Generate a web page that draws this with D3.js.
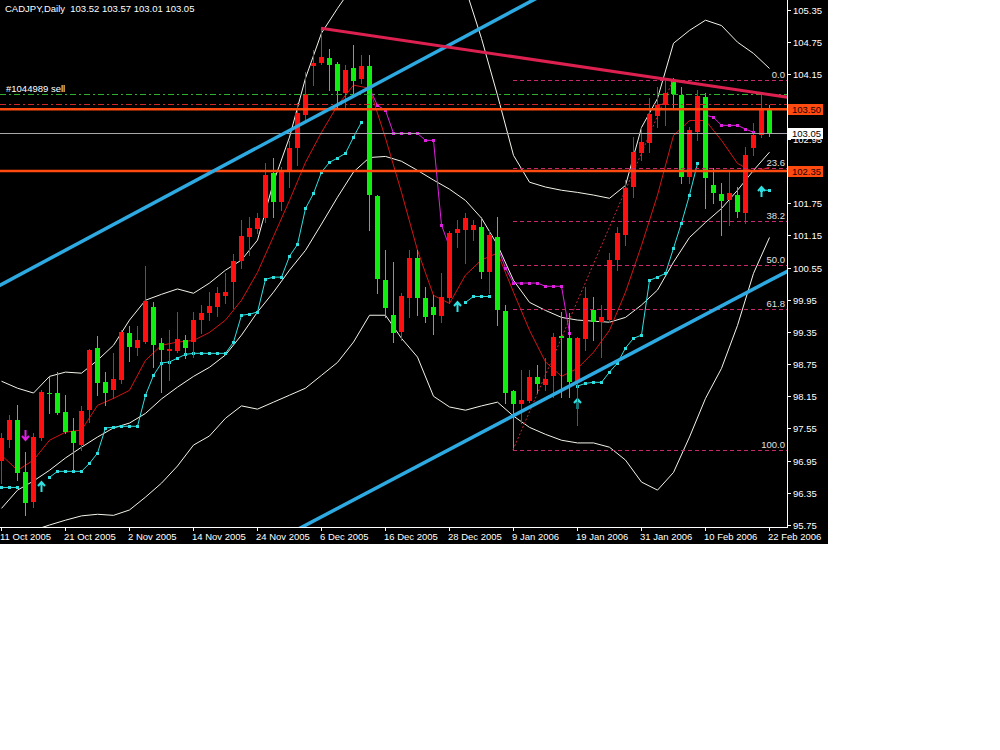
<!DOCTYPE html>
<html><head><meta charset="utf-8">
<script src="https://cdn.jsdelivr.net/npm/d3@7"></script>
<style>html,body{margin:0;padding:0;background:#fff;}svg{display:block}</style>
</head><body>
<svg id="c" width="1000" height="750"></svg>
<script>
// ---------------- DATA ----------------
const symbolTitle = "CADJPY,Daily";
const lastQuote = [103.52, 103.57, 103.01, 103.05];

const opens = [96.94,97.33,97.71,96.74,96.18,97.37,98.21,98.21,97.86,97.50,
97.24,97.89,99.05,98.41,98.27,98.45,99.33,99.05,99.16,99.81,
99.14,98.99,98.99,99.20,99.16,99.57,99.70,99.81,100.02,100.28,
100.67,101.12,101.27,101.47,102.31,101.77,102.36,102.77,103.39,104.30,
104.36,104.45,104.34,103.80,104.27,104.06,104.30,101.88,100.32,99.66,
99.35,99.98,100.73,99.98,99.81,99.64,99.98,101.19,101.25,101.25,
101.30,100.46,101.12,99.74,98.25,98.00,98.06,98.51,98.36,98.53,
99.27,99.23,98.41,99.22,99.76,99.53,99.57,100.69,101.15,102.05,
102.68,102.87,103.37,103.58,104.04,103.76,102.23,103.07,103.72,102.09,
101.92,101.81,101.90,101.56,102.77,103.02,103.52];
const highs = [97.46,97.80,97.99,97.11,97.46,98.27,98.51,98.60,98.17,97.74,
97.97,99.03,99.27,98.60,98.95,99.38,99.46,99.46,100.58,99.90,
99.23,99.38,99.72,99.29,99.72,99.85,100.09,100.18,100.45,100.80,
101.43,101.49,101.56,102.50,102.59,102.42,102.91,103.61,104.19,104.60,
105.01,104.62,104.38,104.32,104.69,104.51,104.51,101.90,100.87,100.65,
100.07,100.87,100.87,100.18,100.04,100.45,101.23,101.43,101.56,101.43,
101.49,101.25,101.49,99.85,98.27,98.64,98.64,98.73,98.86,99.33,
99.72,99.70,99.25,100.18,100.00,99.85,100.82,101.30,102.18,102.98,
103.15,103.71,103.91,104.08,104.08,103.91,103.17,103.85,103.80,102.40,
102.12,102.33,102.05,102.79,103.24,103.80,103.57];
const lows = [96.53,97.20,96.59,95.94,96.09,97.33,97.84,97.82,97.46,96.78,
97.15,97.67,98.17,97.99,98.12,98.40,98.81,98.92,99.14,98.69,
98.23,98.45,98.97,98.86,98.88,99.33,99.57,99.64,99.89,99.79,
100.54,100.78,101.19,101.40,101.49,101.62,102.05,102.46,103.30,103.95,
104.34,103.85,103.54,103.54,103.80,103.99,101.25,100.07,99.63,99.16,
99.20,99.63,99.66,99.53,99.31,99.53,99.89,100.93,100.63,101.06,
100.35,100.07,99.48,98.02,97.15,97.65,98.04,98.21,98.27,98.14,
98.14,98.14,97.61,99.01,99.20,98.88,99.53,100.50,100.97,101.86,
102.55,102.70,103.17,103.20,103.52,102.12,102.12,102.92,101.66,101.75,
101.15,101.34,101.49,101.38,102.64,102.98,103.01];
const closes = [97.37,97.71,96.72,96.16,97.39,98.23,98.19,97.84,97.48,97.28,
97.87,99.01,98.40,98.21,98.47,99.35,99.07,99.20,99.92,99.10,
99.01,99.03,99.22,99.05,99.57,99.70,99.83,100.07,100.09,100.67,
101.13,101.28,101.47,102.27,101.77,102.36,102.77,103.43,103.78,104.36,
104.47,104.32,103.84,104.23,104.02,104.30,101.90,100.33,99.79,99.33,
100.02,100.73,99.98,99.63,99.66,100.00,101.19,101.27,101.47,101.34,
100.46,101.15,99.76,98.21,98.00,98.08,98.51,98.38,98.47,99.25,
99.23,98.41,99.23,99.98,99.53,99.63,100.69,101.19,102.03,102.70,
102.89,103.41,103.58,103.80,103.78,102.23,103.11,103.74,102.22,101.94,
101.79,101.94,101.58,102.64,103.02,103.52,103.05];

// indicator readings, one value every second bar (bars 0,2,4,...,96)
const sampleBars = d3.range(0, 97, 2);
const bbUpper = [98.43,98.30,98.21,98.52,98.60,98.58,98.82,99.10,99.57,99.94,
100.05,100.15,100.07,100.26,100.50,100.69,101.06,102.14,102.98,104.08,
104.92,105.38,105.81,106.18,106.56,106.65,106.56,106.37,106.09,105.75,
104.82,103.76,102.64,102.14,102.05,101.99,101.95,101.90,101.84,102.08,
103.16,103.70,104.73,104.97,105.16,105.06,104.75,104.54,104.26];
const bbMiddle = [96.06,96.40,96.57,96.77,97.00,97.20,97.39,97.56,97.65,97.83,
98.10,98.32,98.52,98.69,98.92,99.29,99.72,100.09,100.50,100.87,
101.36,101.86,102.33,102.60,102.62,102.53,102.36,102.18,102.01,101.80,
101.47,100.97,100.31,99.90,99.75,99.62,99.57,99.55,99.53,99.62,
99.85,100.13,100.65,101.11,101.39,101.65,101.99,102.36,102.70];
const bbLower = [95.47,95.56,95.65,95.75,95.84,95.92,95.95,95.93,96.03,96.27,
96.53,96.85,97.24,97.41,97.74,97.97,97.91,98.04,98.17,98.30,
98.54,98.78,99.16,99.66,99.66,99.23,98.88,98.15,97.95,97.89,
97.97,98.04,97.78,97.57,97.44,97.33,97.28,97.28,97.20,96.96,
96.55,96.40,96.73,97.39,98.11,98.67,99.47,100.44,101.11];
const maLine = [97.05,96.77,96.96,97.33,97.48,97.52,97.98,98.11,98.26,98.82,
99.10,99.16,99.19,99.34,99.57,99.94,100.46,101.13,101.80,102.51,
103.07,103.57,103.95,103.89,102.96,101.95,100.87,100.03,99.88,100.41,
100.69,100.82,100.09,99.38,98.79,98.52,98.67,98.97,99.38,100.09,
100.96,101.90,103.01,103.29,103.29,102.92,102.49,102.33,102.42];

// trailing stop: [firstBar, values...]
const stopUp = [
  [0, [96.45,96.45,96.45]],
  [6, [96.64,96.75,96.75,96.75,96.75,96.90,97.09,97.56,97.57,97.59,97.59,97.59,98.17,98.54,98.77,98.79,98.86,98.93,98.95,98.95,98.95,98.95,98.95,99.16,99.66,99.68,99.72,100.33,100.37,100.37,100.76,100.98,101.65,101.93,102.33,102.51,102.59,102.68,102.98,103.26]],
  [58, [99.90,100.01,100.01,100.01]],
  [72, [98.34,98.39,98.41,98.41,98.60,98.77,99.05,99.23,99.29,100.31,100.37,100.44,100.91,101.38,101.90,102.49]],
  [95, [101.99,101.99]]
];
const stopDown = [
  [46, [103.89,103.57,103.48,103.05,103.05,103.05,103.05,102.92,102.92,101.34,100.93]],
  [62, [100.93,100.54,100.26,100.26,100.26,100.26,100.20,100.20,100.20,99.33]],
  [88, [103.39,103.35,103.20,103.20,103.20,103.13,103.07]]
];
const upArrows = [[5, 96.55], [57, 99.90], [72, 98.10], [95, 102.05]];
const downArrows = [[3, 97.33]];

// chart objects
const channelUpper = [[0, 100.23], [40, 103.42]];
const channelLower = [[60, 97.47], [96, 100.30]];
const resistanceLine = [[40, 105.01], [84, 104.04]];
const levelLines = [103.50, 102.35];
const bidPrice = 103.05;
const orderLabel = "#1044989 sell";
const orderOpen = 103.78;
const orderStop = 103.59;
const fibLow = [64, 97.15];
const fibHigh = [84, 104.04];
const fibLevels = [0, 23.6, 38.2, 50.0, 61.8, 100.0];

const priceTicks = [105.35,104.75,104.15,103.55,102.95,102.35,101.75,101.15,100.55,99.95,99.35,98.75,98.15,97.55,96.95,96.35,95.75];
const dateTickBars = [0,8,16,24,32,40,48,56,64,72,80,88,96];
const dateTickLabels = ["11 Oct 2005","21 Oct 2005","2 Nov 2005","14 Nov 2005","24 Nov 2005","6 Dec 2005","16 Dec 2005","28 Dec 2005","9 Jan 2006","19 Jan 2006","31 Jan 2006","10 Feb 2006","22 Feb 2006"];

// ---------------- DRAW ----------------
const W = 828, H = 544, PW = 787, PH = 527;
const FONT = "'Liberation Sans', Arial, sans-serif";
const COL = {bull:'#ff1010', bear:'#10ee10', band:'#f4f4ea', ma:'#d41414', up:'#30e0e0', down:'#e020e0',
  chan:'#2eaae2', res:'#dc2050', orange:'#ff4a10', fib:'#c8286e', text:'#ffffff'};

const svg = d3.select('#c');
svg.append('rect').attr('width', W).attr('height', H).attr('fill', '#000');
svg.append('defs').append('clipPath').attr('id','plot').append('rect').attr('width', PW).attr('height', PH);

const x = d3.scaleLinear().domain([0, 96]).range([1, 769]);
const y = d3.scaleLinear().domain([95.75, 105.35]).range([525, 10]);
const X = v => Math.round(x(v));
const Y = v => Math.round(y(v));

const plot = svg.append('g').attr('clip-path', 'url(#plot)');

// lines of indicators
const lineGen = d3.line().x(d => x(d[0]) + 0.5).y(d => y(d[1]));
function seriesPts(vals){ return vals.map((v,i) => [sampleBars[i], v]); }
[bbUpper, bbMiddle, bbLower].forEach(s => {
  plot.append('path').attr('d', lineGen(seriesPts(s))).attr('fill','none').attr('stroke', COL.band).attr('stroke-width', 1);
});
plot.append('path').attr('d', lineGen(seriesPts(maLine))).attr('fill','none').attr('stroke', COL.ma).attr('stroke-width', 1);

// trailing stop
function drawStops(segs, color){
  segs.forEach(([start, vals]) => {
    const pts = vals.map((v,i) => [start + i, v]);
    plot.append('path').attr('d', lineGen(pts)).attr('fill','none').attr('stroke', color).attr('stroke-width', 1);
    plot.selectAll(null).data(pts).enter().append('rect')
      .attr('x', d => X(d[0]) - 1).attr('y', d => Y(d[1]) - 1)
      .attr('width', 3).attr('height', 3).attr('fill', color);
  });
}
drawStops(stopUp, COL.up);
drawStops(stopDown, COL.down);
upArrows.forEach(([b, p]) => {
  const cx = X(b) + 0.5, ty = Y(p);
  plot.append('path').attr('d', `M${cx},${ty} L${cx},${ty+10} M${cx-3.5},${ty+4} L${cx},${ty} L${cx+3.5},${ty+4}`)
    .attr('fill','none').attr('stroke', COL.up).attr('stroke-width', 2);
});
downArrows.forEach(([b, p]) => {
  const cx = X(b) + 0.5, ty = Y(p);
  plot.append('path').attr('d', `M${cx},${ty} L${cx},${ty-10} M${cx-3.5},${ty-4} L${cx},${ty} L${cx+3.5},${ty-4}`)
    .attr('fill','none').attr('stroke', COL.down).attr('stroke-width', 2);
});

// candles
const bars = d3.range(opens.length).map(i => ({i, o:opens[i], h:highs[i], l:lows[i], c:closes[i]}));
const cg = plot.append('g').attr('shape-rendering','crispEdges');
cg.selectAll('line').data(bars).enter().append('line')
  .attr('x1', d => X(d.i) + 0.5).attr('x2', d => X(d.i) + 0.5)
  .attr('y1', d => Y(d.h)).attr('y2', d => Y(d.l) + 1)
  .attr('stroke', d => d.c >= d.o ? COL.bull : COL.bear).attr('stroke-width', 1);
cg.selectAll('rect').data(bars).enter().append('rect')
  .attr('x', d => X(d.i) - 2).attr('width', 5)
  .attr('y', d => Y(Math.max(d.o, d.c)))
  .attr('height', d => Math.max(1, Y(Math.min(d.o, d.c)) - Y(Math.max(d.o, d.c))))
  .attr('fill', d => d.c >= d.o ? COL.bull : COL.bear);

// fibonacci
const fibRange = fibHigh[1] - fibLow[1];
const fibG = plot.append('g');
fibLevels.forEach(lv => {
  const p = fibHigh[1] - fibRange * lv / 100;
  const yy = Y(p) + 0.5;
  fibG.append('line').attr('x1', X(fibLow[0])).attr('x2', PW).attr('y1', yy).attr('y2', yy)
    .attr('stroke', COL.fib).attr('stroke-width', 1).attr('stroke-dasharray', '4,3');
  fibG.append('text').attr('x', 785).attr('y', yy - 3).attr('text-anchor','end')
    .attr('font-family', FONT).attr('font-size', 9.5).attr('fill', '#e0e0e0').text(lv.toFixed(1));
});
fibG.append('line').attr('x1', x(fibLow[0])).attr('y1', y(fibLow[1])).attr('x2', x(fibHigh[0])).attr('y2', y(fibHigh[1]))
  .attr('stroke', '#c82838').attr('stroke-width', 1).attr('stroke-dasharray', '2,2');

// order lines
const oy = Y(orderOpen) + 0.5, sy = Y(orderStop) + 0.5;
plot.append('line').attr('x1',0).attr('x2',PW).attr('y1',oy).attr('y2',oy).attr('stroke','#30b030').attr('stroke-dasharray','6,3,2,3');
plot.append('line').attr('x1',0).attr('x2',PW).attr('y1',sy).attr('y2',sy).attr('stroke','#d02828').attr('stroke-dasharray','6,3,2,3');
plot.append('text').attr('x', 6).attr('y', oy - 3).attr('font-family', FONT).attr('font-size', 9.5).attr('fill', COL.text).text(orderLabel);

// bid line
const by = Y(bidPrice) + 0.5;
plot.append('line').attr('x1',0).attr('x2',PW).attr('y1',by).attr('y2',by).attr('stroke','#a8a8a8').attr('stroke-width',1);

// horizontal levels
levelLines.forEach(p => {
  plot.append('line').attr('x1',0).attr('x2',PW).attr('y1',y(p)).attr('y2',y(p)).attr('stroke',COL.orange).attr('stroke-width',2.5);
});

// trend lines (rays extended across the chart)
function extLine(pts, color, w){
  const [a, b] = pts;
  const slope = (b[1] - a[1]) / (b[0] - a[0]);
  const x0 = -5, x1 = 110;
  plot.append('line')
    .attr('x1', x(x0)).attr('y1', y(a[1] + slope * (x0 - a[0])))
    .attr('x2', x(x1)).attr('y2', y(a[1] + slope * (x1 - a[0])))
    .attr('stroke', color).attr('stroke-width', w);
}
extLine(channelUpper, COL.chan, 3.5);
extLine(channelLower, COL.chan, 3.5);
// resistance: from first anchor, extended to the right
(function(){
  const [a, b] = resistanceLine;
  const slope = (b[1] - a[1]) / (b[0] - a[0]);
  plot.append('line').attr('x1', x(a[0])).attr('y1', y(a[1]))
    .attr('x2', x(110)).attr('y2', y(a[1] + slope * (110 - a[0])))
    .attr('stroke', COL.res).attr('stroke-width', 3);
})();

// axes
svg.append('line').attr('x1', PW + 0.5).attr('x2', PW + 0.5).attr('y1', 0).attr('y2', PH + 1).attr('stroke', '#fff');
svg.append('line').attr('x1', 0).attr('x2', PW + 1).attr('y1', PH + 0.5).attr('y2', PH + 0.5).attr('stroke', '#fff');

const boxPrices = levelLines.concat([bidPrice]);
priceTicks.forEach(p => {
  const yy = Y(p) + 0.5;
  svg.append('line').attr('x1', PW).attr('x2', PW + 4).attr('y1', yy).attr('y2', yy).attr('stroke', '#fff');
  const hidden = levelLines.some(l => Math.abs(y(l) - y(p)) < 4);
  if (!hidden) svg.append('text').attr('x', 793).attr('y', yy + 3.5).attr('font-family', FONT).attr('font-size', 9.5)
    .attr('fill', COL.text).text(p.toFixed(2));
});
dateTickBars.forEach((b, i) => {
  const xx = X(b) + 0.5;
  svg.append('line').attr('x1', xx).attr('x2', xx).attr('y1', PH).attr('y2', PH + 4).attr('stroke', '#fff');
  svg.append('text').attr('x', Math.max(0, xx - 1.5)).attr('y', 540).attr('font-family', FONT).attr('font-size', 9.5)
    .attr('fill', COL.text).text(dateTickLabels[i]);
});

// price boxes on axis
function priceBox(p, bg, fg){
  const yy = Y(p);
  svg.append('rect').attr('x', 788).attr('y', yy - 5).attr('width', 35).attr('height', 11).attr('fill', bg);
  svg.append('text').attr('x', 792).attr('y', yy + 3.5).attr('font-family', FONT).attr('font-size', 9.5).attr('fill', fg).text(p.toFixed(2));
}
levelLines.forEach(p => priceBox(p, COL.orange, '#200000'));
priceBox(bidPrice, '#ffffff', '#000000');

// title
svg.append('text').attr('x', 5).attr('y', 12).attr('font-family', FONT).attr('font-size', 9.5).attr('fill', COL.text)
  .attr('xml:space','preserve').style('white-space','pre')
  .text(symbolTitle + "  " + lastQuote.map(v => v.toFixed(2)).join(" "));
</script>
</body></html>
